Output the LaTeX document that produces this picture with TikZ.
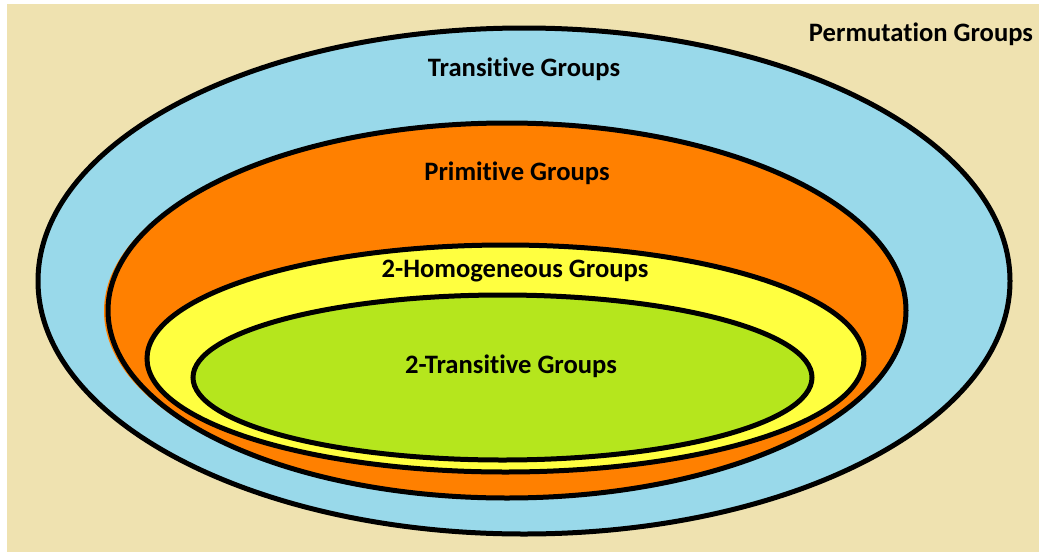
\documentclass[tikz,border=0pt]{standalone}
\usepackage{fontspec}
\setmainfont{Carlito}[Ligatures=NoCommon]
\definecolor{bg}{RGB}{239,226,176}
\definecolor{ltblue}{RGB}{153,217,234}
\definecolor{orng}{RGB}{255,128,0}
\definecolor{ylw}{RGB}{255,255,64}
\definecolor{lime}{RGB}{181,230,29}
\begin{document}
\begin{tikzpicture}[x=1pt,y=-1pt,
  ring/.style={line width=5pt,draw=black},
  lbl/.style={font=\bfseries\fontsize{26.6}{32}\selectfont, inner sep=0pt, anchor=base}]
\useasboundingbox (0,0) rectangle (1039,552);
\fill[white] (0,0) rectangle (1039,552);
\fill[bg] (7,4) rectangle (1039,552);
% transitive
\draw[ring, fill=ltblue] (524,281) ellipse [x radius=486, y radius=253];
% primitive (with slight fill offset)
\fill[orng] (504,311) ellipse [x radius=400, y radius=187];
\draw[ring, fill=orng] (507,310.5) ellipse [x radius=399, y radius=187.5];
% 2-homogeneous
\draw[ring, fill=ylw] (505.5,358.5) ellipse [x radius=358.5, y radius=113.5];
% 2-transitive
\draw[ring, fill=lime] (502.5,377.5) ellipse [x radius=309.5, y radius=82.5];
\node[lbl] (perm) at (921,41) {Permutation Groups};
\node[lbl] (trans) at (524,76) {Transitive Groups};
\node[lbl] (prim) at (517,180) {Primitive Groups};
\node[lbl] (homog) at (515,277) {2-Homogeneous Groups};
\node[lbl] (twotr) at (511,373) {2-Transitive Groups};
\end{tikzpicture}
\end{document}
